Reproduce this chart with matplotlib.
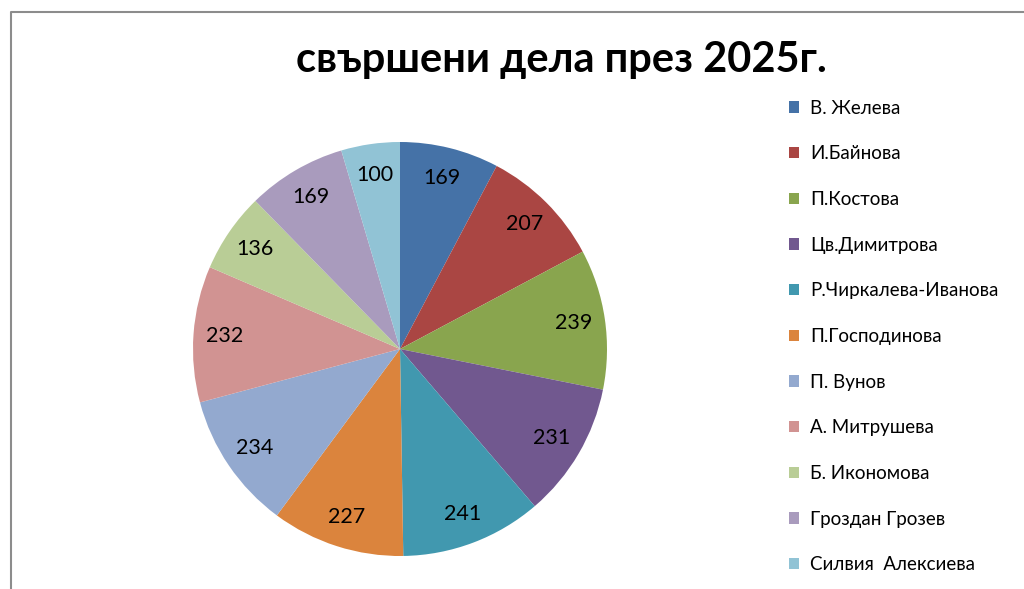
import matplotlib
matplotlib.use("Agg")
import matplotlib.pyplot as plt
from matplotlib.patches import Patch
from matplotlib.lines import Line2D

plt.rcParams['font.family'] = ['Lato', 'Open Sans', 'DejaVu Sans']

names = ["В. Желева", "И.Байнова", "П.Костова", "Цв.Димитрова",
         "Р.Чиркалева-Иванова", "П.Господинова", "П. Вунов",
         "А. Митрушева", "Б. Икономова", "Гроздан Грозев",
         "Силвия  Алексиева"]
cases = [169, 207, 239, 231, 241, 227, 234, 232, 136, 169, 100]
colors = ["#4572A7", "#AA4643", "#89A54E", "#71588F", "#4198AF", "#DB843D",
          "#93A9CF", "#D19392", "#B9CD96", "#A99BBD", "#91C3D5"]
title = "свършени дела през 2025г."

W, H = 1024, 589
fig = plt.figure(figsize=(W / 100, H / 100), dpi=100)

# pie: centre (400, 349) px from top, radius 207 px
cx, cy, r = 400, 349, 207
ax = fig.add_axes([(cx - r) / W, (H - cy - r) / H, 2 * r / W, 2 * r / H])
total = sum(cases)
wedges, _, autotexts = ax.pie(cases, colors=colors, startangle=90, counterclock=False,
                              autopct=lambda p: f"{round(p * total / 100):d}",
                              pctdistance=0.85, radius=1,
                              textprops={'fontsize': 15.5, 'color': 'black'})
ax.set_xlim(-1, 1)
ax.set_ylim(-1, 1)
ax.axis('off')

fig.text(561 / W, 1 - 60 / H, title, ha='center', va='center',
         fontsize=30, fontweight='bold')

handles = [Patch(facecolor=c, edgecolor='none') for c in colors]
fig.legend(handles, names, loc='upper left', bbox_to_anchor=(781 / W, 1 - 92 / H),
           frameon=False, fontsize=13.5, handlelength=0.55, handleheight=0.55,
           handletextpad=0.6, labelspacing=1.53, borderaxespad=0)

# chart area border (left and top edges visible)
fig.add_artist(Line2D([10.5 / W, 10.5 / W, 1.0], [0, 1 - 11.5 / H, 1 - 11.5 / H],
                      color='#8c8c8c', lw=1.5, transform=fig.transFigure))

fig.savefig("out.png", dpi=100)
